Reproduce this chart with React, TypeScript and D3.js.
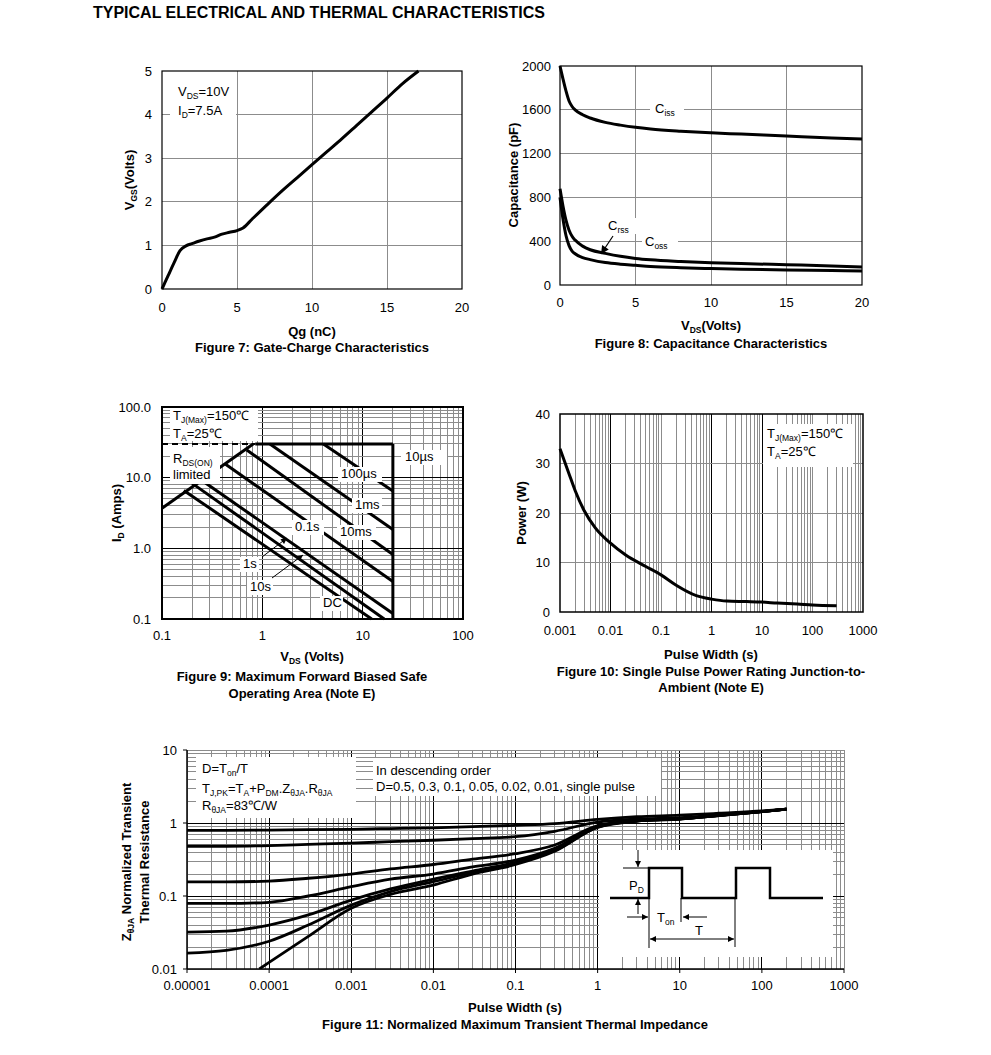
import * as d3 from 'd3'

const FONT = '"Liberation Sans", Arial, Helvetica, sans-serif'
const GRID = '#8c8c8c'
const FS = 13
const SUB = 8.5

// Figure 7: gate charge
const gateQg = [0, 0.4, 0.8, 1.2, 1.6, 2, 2.5, 3, 3.5, 4, 4.5, 5, 5.4, 6, 7, 8, 9, 10, 11, 12, 13, 14, 15, 16, 17.1]
const gateVgs = [0, 0.3, 0.6, 0.88, 0.99, 1.04, 1.1, 1.15, 1.19, 1.26, 1.3, 1.34, 1.4, 1.6, 1.93, 2.25, 2.55, 2.85, 3.15, 3.45, 3.76, 4.07, 4.38, 4.7, 5.0]
const gateXTicks = [0, 5, 10, 15, 20]
const gateYTicks = [0, 1, 2, 3, 4, 5]

// Figure 8: capacitance
const capVds = [0, 0.2, 0.4, 0.6, 0.8, 1, 1.5, 2, 3, 4, 5, 6, 8, 10, 12, 15, 18, 20]
const capCiss = [2000, 1880, 1770, 1680, 1630, 1600, 1555, 1525, 1485, 1460, 1440, 1425, 1405, 1390, 1378, 1360, 1342, 1333]
const capCoss = [880, 720, 590, 500, 445, 410, 355, 322, 289, 262, 243, 230, 215, 204, 196, 185, 174, 165]
const capCrss = [800, 600, 450, 360, 310, 285, 250, 232, 205, 190, 180, 170, 158, 150, 144, 137, 132, 128]
const capXTicks = [0, 5, 10, 15, 20]
const capYTicks = [0, 400, 800, 1200, 1600, 2000]

// Figure 9: safe operating area
const soaPulse = ['100µs', '1ms', '10ms', '0.1s', '1s', '10s', 'DC']
const soaStartV = [4.06, 1.19, 0.7, 0.43, 0.24, 0.2, 0.165]
const soaStartI = [30, 30, 24.6, 15.5, 9.5, 8.3, 6.6]
const soaEndV = [20, 20, 20, 20, 20, 16.4, 12.3]
const soaEndI = [6.5, 1.85, 0.82, 0.34, 0.12, 0.1, 0.1]
const soaRdsV = [0.1, 0.81]
const soaRdsI = [3.7, 30]
const soaLimitV = [0.85, 20]
const soaLimitI = 30
const soaXTicks = [0.1, 1, 10, 100]
const soaXLabels = ['0.1', '1', '10', '100']
const soaYTicks = [0.1, 1, 10, 100]
const soaYLabels = ['0.1', '1.0', '10.0', '100.0']

// Figure 10: single pulse power
const pulseWidth = [0.001, 0.0015, 0.002, 0.003, 0.005, 0.01, 0.02, 0.05, 0.1, 0.2, 0.5, 1, 2, 5, 10, 20, 50, 100, 300]
const pulsePower = [33, 28, 24.5, 20.5, 17, 13.9, 11.5, 9.2, 7.5, 5.4, 3.3, 2.6, 2.2, 2.1, 2.0, 1.8, 1.6, 1.4, 1.25]
const pulseXTicks = [0.001, 0.01, 0.1, 1, 10, 100, 1000]
const pulseXLabels = ['0.001', '0.01', '0.1', '1', '10', '100', '1000']
const pulseYTicks = [0, 10, 20, 30, 40]
const pulseDarkMajors = [0.01, 1, 10]

// Figure 11: transient thermal impedance
const zTime = [1e-5, 3e-5, 1e-4, 3e-4, 1e-3, 3e-3, 1e-2, 3e-2, 0.1, 0.3, 1, 3, 10, 30, 100, 200]
const zD05 = [0.79, 0.79, 0.8, 0.81, 0.82, 0.84, 0.86, 0.89, 0.93, 0.98, 1.12, 1.22, 1.28, 1.36, 1.46, 1.55]
const zD03 = [0.48, 0.48, 0.49, 0.51, 0.53, 0.555, 0.58, 0.61, 0.65, 0.77, 1.03, 1.13, 1.18, 1.3, 1.44, 1.55]
const zD01 = [0.156, 0.156, 0.16, 0.175, 0.2, 0.235, 0.27, 0.32, 0.38, 0.5, 0.92, 1.08, 1.15, 1.27, 1.43, 1.55]
const zD005 = [0.079, 0.079, 0.082, 0.1, 0.134, 0.17, 0.2, 0.25, 0.31, 0.45, 0.9, 1.07, 1.14, 1.27, 1.43, 1.55]
const zD002 = [0.032, 0.033, 0.04, 0.055, 0.088, 0.125, 0.17, 0.22, 0.29, 0.43, 0.89, 1.07, 1.14, 1.27, 1.43, 1.55]
const zD001 = [0.0165, 0.018, 0.024, 0.04, 0.075, 0.115, 0.157, 0.21, 0.28, 0.42, 0.88, 1.06, 1.13, 1.26, 1.43, 1.55]
const zSingleTime = [7.6e-5, 1e-4, 3e-4, 1e-3, 3e-3, 1e-2, 3e-2, 0.1, 0.3, 1, 3, 10, 30, 100, 200]
const zSingle = [0.01, 0.0123, 0.028, 0.068, 0.105, 0.141, 0.2, 0.27, 0.41, 0.87, 1.06, 1.13, 1.26, 1.43, 1.55]
const zXTicks = [1e-5, 1e-4, 1e-3, 1e-2, 0.1, 1, 10, 100, 1000]
const zXLabels = ['0.00001', '0.0001', '0.001', '0.01', '0.1', '1', '10', '100', '1000']
const zYTicks = [0.01, 0.1, 1, 10]
const zYLabels = ['0.01', '0.1', '1', '10']

function decadeSteps(lo: number, hi: number) {
  const out: { v: number; major: boolean }[] = []
  const e0 = Math.round(Math.log10(lo))
  const e1 = Math.round(Math.log10(hi))
  for (let e = e0; e < e1; e++) {
    for (let m = 1; m < 10; m++) out.push({ v: m * Math.pow(10, e), major: m === 1 })
  }
  out.push({ v: hi, major: true })
  return out
}

function pathOf(xs: number[], ys: number[], x: (v: number) => number, y: (v: number) => number) {
  const pts = xs.map((v, i) => [x(v), y(ys[i])] as [number, number])
  return d3.line().curve(d3.curveMonotoneX)(pts) || ''
}

function Box({ x, y, w, h }: { x: number; y: number; w: number; h: number }) {
  return <rect x={x} y={y} width={w} height={h} fill="#fff" />
}

function Fig7() {
  const x = d3.scaleLinear().domain([0, 20]).range([162, 462])
  const y = d3.scaleLinear().domain([0, 5]).range([289, 71])
  return (
    <g>
      {gateXTicks.slice(1, -1).map((t) => (
        <line key={'gx' + t} x1={x(t)} x2={x(t)} y1={y(0)} y2={y(5)} stroke={GRID} shapeRendering="crispEdges" />
      ))}
      {gateYTicks.slice(1, -1).map((t) => (
        <line key={'gy' + t} x1={x(0)} x2={x(20)} y1={y(t)} y2={y(t)} stroke={GRID} shapeRendering="crispEdges" />
      ))}
      <Box x={170} y={80} w={66} h={38} />
      <text x={178} y={96} fontSize={FS}>
        V<tspan fontSize={SUB} dy={3}>DS</tspan>
        <tspan dy={-3}>=10V</tspan>
      </text>
      <text x={178} y={115} fontSize={FS}>
        I<tspan fontSize={SUB} dy={3}>D</tspan>
        <tspan dy={-3}>=7.5A</tspan>
      </text>
      <path d={pathOf(gateQg, gateVgs, x, y)} fill="none" stroke="#000" strokeWidth={3} />
      <rect x={x(0)} y={y(5)} width={x(20) - x(0)} height={y(0) - y(5)} fill="none" stroke="#000" strokeWidth={1.2} />
      {gateXTicks.map((t) => (
        <text key={'gxl' + t} x={x(t)} y={312} fontSize={FS} textAnchor="middle">{t}</text>
      ))}
      {gateYTicks.map((t) => (
        <text key={'gyl' + t} x={152} y={y(t) + 4.5} fontSize={FS} textAnchor="end">{t}</text>
      ))}
      <text x={312} y={336} fontSize={FS} fontWeight="bold" textAnchor="middle">Qg (nC)</text>
      <text x={312} y={352} fontSize={FS} fontWeight="bold" textAnchor="middle">Figure 7: Gate-Charge Characteristics</text>
      <text transform="translate(134,180) rotate(-90)" fontSize={FS} fontWeight="bold" textAnchor="middle">
        V<tspan fontSize={SUB} dy={3}>GS</tspan>
        <tspan dy={-3}>(Volts)</tspan>
      </text>
    </g>
  )
}

function Fig8() {
  const x = d3.scaleLinear().domain([0, 20]).range([560, 862])
  const y = d3.scaleLinear().domain([0, 2000]).range([285, 66])
  return (
    <g>
      {capXTicks.slice(1, -1).map((t) => (
        <line key={'cx' + t} x1={x(t)} x2={x(t)} y1={y(0)} y2={y(2000)} stroke={GRID} shapeRendering="crispEdges" />
      ))}
      {capYTicks.slice(1, -1).map((t) => (
        <line key={'cy' + t} x1={x(0)} x2={x(20)} y1={y(t)} y2={y(t)} stroke={GRID} shapeRendering="crispEdges" />
      ))}
      <Box x={650} y={101} w={34} h={16} />
      <Box x={642} y={234} w={36} h={16} />
      <Box x={605} y={218} w={32} h={16} />
      <path d={pathOf(capVds, capCiss, x, y)} fill="none" stroke="#000" strokeWidth={3} />
      <path d={pathOf(capVds, capCoss, x, y)} fill="none" stroke="#000" strokeWidth={3} />
      <path d={pathOf(capVds, capCrss, x, y)} fill="none" stroke="#000" strokeWidth={3} />
      <text x={655} y={113} fontSize={FS}>
        C<tspan fontSize={SUB} dy={3}>iss</tspan>
      </text>
      <text x={608} y={230} fontSize={FS}>
        C<tspan fontSize={SUB} dy={3}>rss</tspan>
      </text>
      <text x={645} y={246} fontSize={FS}>
        C<tspan fontSize={SUB} dy={3}>oss</tspan>
      </text>
      <line x1={613} y1={236} x2={601} y2={254} stroke="#000" strokeWidth={1.2} markerEnd="url(#ahBig)" />
      <rect x={x(0)} y={y(2000)} width={x(20) - x(0)} height={y(0) - y(2000)} fill="none" stroke="#000" strokeWidth={1.2} />
      {capXTicks.map((t) => (
        <text key={'cxl' + t} x={x(t)} y={307} fontSize={FS} textAnchor="middle">{t}</text>
      ))}
      {capYTicks.map((t) => (
        <text key={'cyl' + t} x={551} y={y(t) + 4.5} fontSize={FS} textAnchor="end">{t}</text>
      ))}
      <text x={711} y={330} fontSize={FS} fontWeight="bold" textAnchor="middle">
        V<tspan fontSize={SUB} dy={3}>DS</tspan>
        <tspan dy={-3}>(Volts)</tspan>
      </text>
      <text x={711} y={348} fontSize={FS} fontWeight="bold" textAnchor="middle">Figure 8: Capacitance Characteristics</text>
      <text transform="translate(518,175) rotate(-90)" fontSize={FS} fontWeight="bold" textAnchor="middle">Capacitance (pF)</text>
    </g>
  )
}

function Fig9() {
  const x = d3.scaleLog().domain([0.1, 100]).range([162, 463])
  const y = d3.scaleLog().domain([0.1, 100]).range([619, 407])
  const steps = decadeSteps(0.1, 100)
  const labels: { t: string; x: number; y: number; bx: number; bw: number }[] = [
    { t: '10µs', x: 405, y: 461, bx: 401, bw: 46 },
    { t: soaPulse[0], x: 341, y: 478, bx: 338, bw: 44 },
    { t: soaPulse[1], x: 355, y: 509, bx: 352, bw: 30 },
    { t: soaPulse[2], x: 340, y: 536, bx: 337, bw: 39 },
    { t: soaPulse[3], x: 295, y: 531, bx: 292, bw: 32 },
    { t: soaPulse[4], x: 243, y: 568, bx: 240, bw: 19 },
    { t: soaPulse[5], x: 250, y: 591, bx: 247, bw: 26 },
    { t: soaPulse[6], x: 323, y: 607, bx: 320, bw: 23 },
  ]
  return (
    <g>
      {steps.map((s) => (
        <line key={'sx' + s.v} x1={x(s.v)} x2={x(s.v)} y1={619} y2={407} stroke={s.major ? '#000' : GRID} shapeRendering="crispEdges" />
      ))}
      {steps.map((s) => (
        <line key={'sy' + s.v} x1={162} x2={463} y1={y(s.v)} y2={y(s.v)} stroke={s.major ? '#000' : GRID} shapeRendering="crispEdges" />
      ))}
      <line x1={x(0.1)} x2={x(soaLimitV[0])} y1={y(soaLimitI)} y2={y(soaLimitI)} stroke="#000" strokeWidth={2} strokeDasharray="6 4" />
      <line x1={x(soaLimitV[0])} x2={x(soaLimitV[1])} y1={y(soaLimitI)} y2={y(soaLimitI)} stroke="#000" strokeWidth={3} />
      <line x1={x(soaLimitV[1])} x2={x(soaLimitV[1])} y1={y(soaLimitI)} y2={y(0.1)} stroke="#000" strokeWidth={3} />
      <line x1={x(soaRdsV[0])} x2={x(soaRdsV[1])} y1={y(soaRdsI[0])} y2={y(soaRdsI[1])} stroke="#000" strokeWidth={3} />
      {soaPulse.map((p, i) => (
        <line key={'sl' + p} x1={x(soaStartV[i])} y1={y(soaStartI[i])} x2={x(soaEndV[i])} y2={y(soaEndI[i])} stroke="#000" strokeWidth={3} />
      ))}
      <Box x={170} y={408} w={88} h={33} />
      <Box x={170} y={447} w={50} h={37} />
      {labels.map((l) => (
        <Box key={'sb' + l.t} x={l.bx} y={l.y - 11} w={l.bw} h={15} />
      ))}
      {labels.map((l) => (
        <text key={'st' + l.t} x={l.x} y={l.y} fontSize={FS}>{l.t}</text>
      ))}
      <text x={173} y={420} fontSize={FS}>
        T<tspan fontSize={SUB} dy={3}>J(Max)</tspan>
        <tspan dy={-3}>=150℃</tspan>
      </text>
      <text x={173} y={438} fontSize={FS}>
        T<tspan fontSize={SUB} dy={3}>A</tspan>
        <tspan dy={-3}>=25℃</tspan>
      </text>
      <text x={173} y={463} fontSize={FS}>
        R<tspan fontSize={SUB} dy={3}>DS(ON)</tspan>
      </text>
      <text x={173} y={479} fontSize={FS}>limited</text>
      <line x1={262} y1={557} x2={287} y2={538} stroke="#000" strokeWidth={1} markerEnd="url(#ah)" />
      <line x1={272} y1={578} x2={303} y2={555} stroke="#000" strokeWidth={1} markerEnd="url(#ah)" />
      <rect x={162} y={407} width={301} height={212} fill="none" stroke="#000" strokeWidth={2} />
      {soaXTicks.map((t, i) => (
        <text key={'sxl' + t} x={x(t)} y={640} fontSize={FS} textAnchor="middle">{soaXLabels[i]}</text>
      ))}
      {soaYTicks.map((t, i) => (
        <text key={'syl' + t} x={151} y={y(t) + 4.5} fontSize={FS} textAnchor="end">{soaYLabels[i]}</text>
      ))}
      <text x={312} y={661} fontSize={FS} fontWeight="bold" textAnchor="middle">
        V<tspan fontSize={SUB} dy={3}>DS</tspan>
        <tspan dy={-3}> (Volts)</tspan>
      </text>
      <text x={302} y={681} fontSize={FS} fontWeight="bold" textAnchor="middle">Figure 9: Maximum Forward Biased Safe</text>
      <text x={302} y={698} fontSize={FS} fontWeight="bold" textAnchor="middle">Operating Area (Note E)</text>
      <text transform="translate(121,513) rotate(-90)" fontSize={FS} fontWeight="bold" textAnchor="middle">
        I<tspan fontSize={SUB} dy={3}>D</tspan>
        <tspan dy={-3}> (Amps)</tspan>
      </text>
    </g>
  )
}

function Fig10() {
  const x = d3.scaleLog().domain([0.001, 1000]).range([560, 863])
  const y = d3.scaleLinear().domain([0, 40]).range([612, 414])
  const steps = decadeSteps(0.001, 1000).filter((s) => s.v > 0.001 && s.v < 1000)
  return (
    <g>
      {steps.map((s) => (
        <line
          key={'px' + s.v}
          x1={x(s.v)}
          x2={x(s.v)}
          y1={612}
          y2={414}
          stroke={pulseDarkMajors.some((m) => Math.abs(m - s.v) < 1e-9) ? '#000' : GRID}
          shapeRendering="crispEdges"
        />
      ))}
      {pulseYTicks.slice(1, -1).map((t) => (
        <line key={'py' + t} x1={560} x2={863} y1={y(t)} y2={y(t)} stroke={GRID} shapeRendering="crispEdges" />
      ))}
      <Box x={763} y={424} w={90} h={43} />
      <text x={767} y={438} fontSize={FS}>
        T<tspan fontSize={SUB} dy={3}>J(Max)</tspan>
        <tspan dy={-3}>=150℃</tspan>
      </text>
      <text x={767} y={456} fontSize={FS}>
        T<tspan fontSize={SUB} dy={3}>A</tspan>
        <tspan dy={-3}>=25℃</tspan>
      </text>
      <path d={pathOf(pulseWidth, pulsePower, x, y)} fill="none" stroke="#000" strokeWidth={3} />
      <rect x={560} y={414} width={303} height={198} fill="none" stroke="#000" strokeWidth={1.5} />
      {pulseXTicks.map((t, i) => (
        <text key={'pxl' + t} x={x(t)} y={635} fontSize={FS} textAnchor="middle">{pulseXLabels[i]}</text>
      ))}
      {pulseYTicks.map((t) => (
        <text key={'pyl' + t} x={550} y={y(t) + 4.5} fontSize={FS} textAnchor="end">{t}</text>
      ))}
      <text x={711} y={659} fontSize={FS} fontWeight="bold" textAnchor="middle">Pulse Width (s)</text>
      <text x={711} y={676} fontSize={FS} fontWeight="bold" textAnchor="middle">Figure 10: Single Pulse Power Rating Junction-to-</text>
      <text x={711} y={692} fontSize={FS} fontWeight="bold" textAnchor="middle">Ambient (Note E)</text>
      <text transform="translate(526,513) rotate(-90)" fontSize={FS} fontWeight="bold" textAnchor="middle">Power (W)</text>
    </g>
  )
}

function Fig11() {
  const x = d3.scaleLog().domain([1e-5, 1000]).range([187, 844])
  const y = d3.scaleLog().domain([0.01, 10]).range([969, 750])
  const xs = decadeSteps(1e-5, 1000)
  const ys = decadeSteps(0.01, 10)
  const series = [zD05, zD03, zD01, zD005, zD002, zD001]
  return (
    <g>
      {xs.map((s) => (
        <line
          key={'zx' + s.v}
          x1={x(s.v)}
          x2={x(s.v)}
          y1={969}
          y2={750}
          stroke={s.major && s.v > 1e-5 && s.v < 999 ? '#000' : GRID}
          shapeRendering="crispEdges"
        />
      ))}
      {ys.map((s) => (
        <line
          key={'zy' + s.v}
          x1={187}
          x2={844}
          y1={y(s.v)}
          y2={y(s.v)}
          stroke={s.major && s.v > 0.01 && s.v < 9 ? '#000' : GRID}
          shapeRendering="crispEdges"
        />
      ))}
      <clipPath id="zclip">
        <rect x={187} y={750} width={657} height={219} />
      </clipPath>
      <g clipPath="url(#zclip)">
        {series.map((s, i) => (
          <path key={'zs' + i} d={pathOf(zTime, s, x, y)} fill="none" stroke="#000" strokeWidth={2.8} />
        ))}
        <path d={pathOf(zSingleTime, zSingle, x, y)} fill="none" stroke="#000" strokeWidth={2.8} />
      </g>
      <Box x={196} y={757} w={160} h={61} />
      <Box x={373} y={758} w={288} h={38} />
      <Box x={599} y={850} w={234} h={107} />
      <text x={202} y={773} fontSize={FS}>
        D=T<tspan fontSize={SUB} dy={3}>on</tspan>
        <tspan dy={-3}>/T</tspan>
      </text>
      <text x={202} y={793} fontSize={FS}>
        T<tspan fontSize={SUB} dy={3}>J,PK</tspan>
        <tspan dy={-3}>=T</tspan>
        <tspan fontSize={SUB} dy={3}>A</tspan>
        <tspan dy={-3}>+P</tspan>
        <tspan fontSize={SUB} dy={3}>DM</tspan>
        <tspan dy={-3}>.Z</tspan>
        <tspan fontSize={SUB} dy={3}>θJA</tspan>
        <tspan dy={-3}>.R</tspan>
        <tspan fontSize={SUB} dy={3}>θJA</tspan>
      </text>
      <text x={202} y={810} fontSize={FS}>
        R<tspan fontSize={SUB} dy={3}>θJA</tspan>
        <tspan dy={-3}>=83℃/W</tspan>
      </text>
      <text x={376} y={775} fontSize={FS}>In descending order</text>
      <text x={376} y={791} fontSize={FS}>D=0.5, 0.3, 0.1, 0.05, 0.02, 0.01, single pulse</text>
      {/* duty-cycle waveform inset */}
      <path d="M610,898 H649 V868 H682 V898 H736 V868 H770 V898 H823" fill="none" stroke="#000" strokeWidth={2.5} />
      <path d="M623,868 H649 M649,898 V948 M681,898 V922 M735,898 V947" fill="none" stroke="#000" strokeWidth={1} />
      <line x1={638} y1={850} x2={638} y2={867} stroke="#000" strokeWidth={1} markerEnd="url(#ah)" />
      <line x1={638} y1={914} x2={638} y2={899} stroke="#000" strokeWidth={1} markerEnd="url(#ah)" />
      <line x1={627} y1={917} x2={648} y2={917} stroke="#000" strokeWidth={1} markerEnd="url(#ah)" />
      <line x1={707} y1={917} x2={683} y2={917} stroke="#000" strokeWidth={1} markerEnd="url(#ah)" />
      <line x1={650} y1={939} x2={734} y2={939} stroke="#000" strokeWidth={1} markerStart="url(#ah)" markerEnd="url(#ah)" />
      <text x={629} y={890} fontSize={FS}>
        P<tspan fontSize={SUB} dy={3}>D</tspan>
      </text>
      <text x={657} y={922} fontSize={FS}>
        T<tspan fontSize={SUB} dy={3}>on</tspan>
      </text>
      <text x={695} y={935} fontSize={FS}>T</text>
      <line x1={187} x2={187} y1={750} y2={969} stroke="#000" strokeWidth={1.5} />
      <line x1={187} x2={844} y1={969} y2={969} stroke="#000" strokeWidth={1.5} />
      {zXTicks.map((t) => (
        <line key={'zxt' + t} x1={x(t)} x2={x(t)} y1={969} y2={973} stroke="#000" />
      ))}
      {zYTicks.map((t) => (
        <line key={'zyt' + t} x1={183} x2={187} y1={y(t)} y2={y(t)} stroke="#000" />
      ))}
      {zXTicks.map((t, i) => (
        <text key={'zxl' + t} x={x(t)} y={990} fontSize={FS} textAnchor="middle">{zXLabels[i]}</text>
      ))}
      {zYTicks.map((t, i) => (
        <text key={'zyl' + t} x={177} y={y(t) + 4.5} fontSize={FS} textAnchor="end">{zYLabels[i]}</text>
      ))}
      <text x={515} y={1012} fontSize={FS} fontWeight="bold" textAnchor="middle">Pulse Width (s)</text>
      <text x={515} y={1029} fontSize={FS} fontWeight="bold" textAnchor="middle">Figure 11: Normalized Maximum Transient Thermal Impedance</text>
      <text transform="translate(131,862) rotate(-90)" fontSize={FS} fontWeight="bold" textAnchor="middle">
        Z<tspan fontSize={SUB} dy={3}>θJA</tspan>
        <tspan dy={-3}> Normalized Transient</tspan>
      </text>
      <text transform="translate(149,862) rotate(-90)" fontSize={FS} fontWeight="bold" textAnchor="middle">Thermal Resistance</text>
    </g>
  )
}

export default function App() {
  return (
    <svg
      width={991}
      height={1055}
      style={{ position: 'absolute', left: 0, top: 0, background: '#fff' }}
      fontFamily={FONT}
    >
      <defs>
        <marker id="ah" viewBox="0 0 10 10" refX="10" refY="5" markerWidth="7" markerHeight="6" orient="auto-start-reverse" markerUnits="userSpaceOnUse">
          <path d="M0,0 L10,5 L0,10 z" fill="#000" />
        </marker>
        <marker id="ahBig" viewBox="0 0 10 10" refX="10" refY="5" markerWidth="10" markerHeight="8" orient="auto" markerUnits="userSpaceOnUse">
          <path d="M0,0 L10,5 L0,10 z" fill="#000" />
        </marker>
      </defs>
      <rect width={991} height={1055} fill="#fff" />
      <text x={93} y={18} fontSize={16} fontWeight="bold">TYPICAL ELECTRICAL AND THERMAL CHARACTERISTICS</text>
      <Fig7 />
      <Fig8 />
      <Fig9 />
      <Fig10 />
      <Fig11 />
    </svg>
  )
}
